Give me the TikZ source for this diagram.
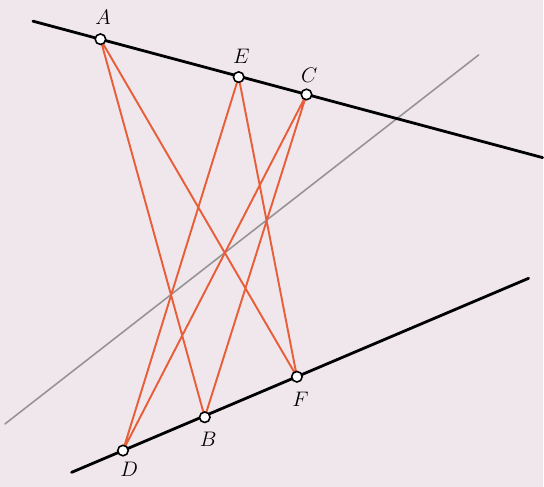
\documentclass[tikz,border=0pt]{standalone}
\usepackage{amsmath,amssymb}
\usetikzlibrary{arrows.meta}
\usepackage{xcolor}
\definecolor{paper}{RGB}{240,231,236}
\definecolor{pappusred}{RGB}{232,94,56}

\begin{document}
\begin{tikzpicture}[x=0.02cm,y=-0.02cm,font=\fontsize{13}{15}\selectfont,line cap=round,
  pt/.style={circle,draw,fill=white,line width=0.9pt,inner sep=0pt,minimum size=6pt}]
\fill[paper] (0,0) rectangle (544,488);
\coordinate (A) at (100.7,39.3);
\coordinate (E) at (239.3,77.3);
\coordinate (C) at (307.3,94.7);
\coordinate (D) at (123.3,451.7);
\coordinate (B) at (205.3,418.3);
\coordinate (F) at (297.7,377.7);
\coordinate (top1) at (33,21.2);
\coordinate (top2) at (544,158);
\coordinate (bot1) at (71.7,473.6);
\coordinate (bot2) at (530,279);
\coordinate (mid1) at (5,425);
\coordinate (mid2) at (480,55);
\draw[black!42,line width=0.9pt] (mid1) -- (mid2);
\draw[pappusred,line width=1.1pt] (A) -- (B) (A) -- (F) (E) -- (D) (E) -- (F) (C) -- (D) (C) -- (B);
\draw[line width=1.6pt] (top1) -- (top2);
\draw[line width=1.6pt] (bot1) -- (bot2);
\foreach \p in {A,E,C,D,B,F}
  \node[pt] (n\p) at (\p) {};
\node[above=5pt,xshift=1.5pt] at (A) {$A$};
\node[above=4pt,xshift=1.5pt] at (E) {$E$};
\node[above=3.5pt,xshift=1.5pt] at (C) {$C$};
\node[below=3pt,xshift=3.5pt] at (D) {$D$};
\node[below=5pt,xshift=2pt] at (B) {$B$};
\node[below=5.5pt,xshift=2pt] at (F) {$F$};
\end{tikzpicture}
\end{document}
